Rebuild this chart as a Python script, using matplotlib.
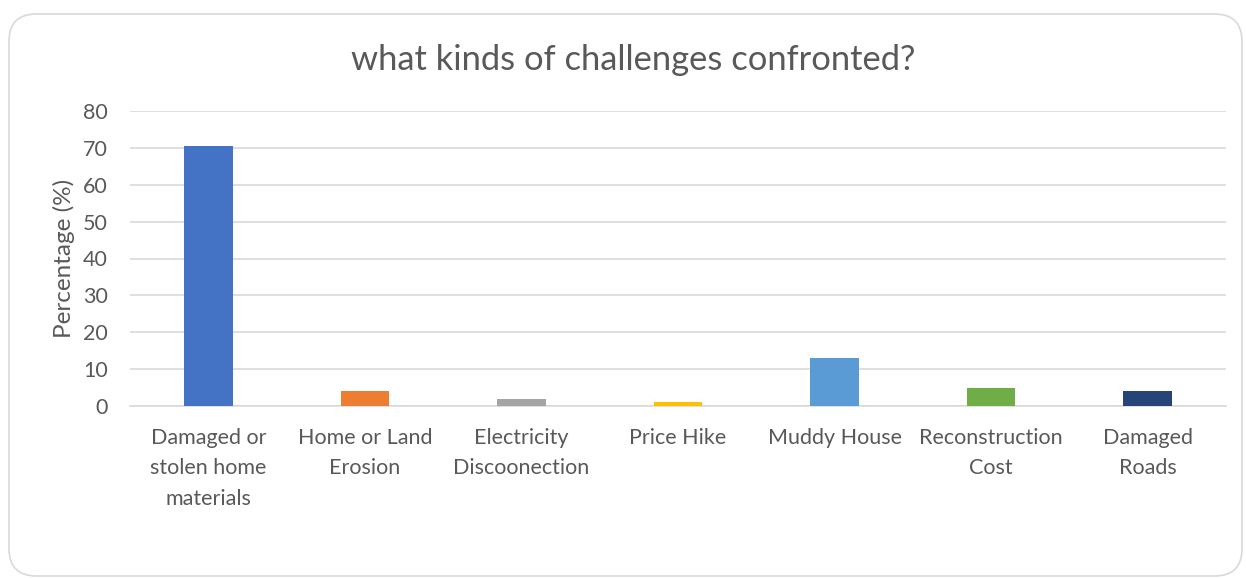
import matplotlib
matplotlib.use("Agg")
import matplotlib.pyplot as plt
from matplotlib.patches import FancyBboxPatch

categories = ["Damaged or\nstolen home\nmaterials", "Home or Land\nErosion", "Electricity\nDiscoonection",
              "Price Hike", "Muddy House", "Reconstruction\nCost", "Damaged\nRoads"]
values = [70.6, 4, 2, 1, 13, 5, 4]
colors = ["#4472C4", "#ED7D31", "#A5A5A5", "#FFC000", "#5B9BD5", "#70AD47", "#264478"]
yticks = [0, 10, 20, 30, 40, 50, 60, 70, 80]

plt.rcParams['font.family'] = ['Lato', 'DejaVu Sans']
W, H = 1246, 578
fig = plt.figure(figsize=(W/100, H/100), dpi=100)
fig.patch.set_facecolor("white")

# chart border
border = FancyBboxPatch((9/W, 2/H), (W-9-4)/W, (H-14-2)/H,
                        boxstyle="round,pad=0,rounding_size=0.022",
                        transform=fig.transFigure, facecolor="none",
                        edgecolor="#d9d9d9", linewidth=1.2, mutation_aspect=W/H, zorder=-1)
fig.patches.append(border)

ax = fig.add_axes([130/W, 1-406/H, (1226-130)/W, (406-111)/H])
ax.set_facecolor("none")
x = list(range(len(categories)))
ax.bar(x, values, width=0.31, color=colors, zorder=3)
ax.set_xlim(-0.5, len(categories)-0.5)
ax.set_ylim(0, 80)
ax.set_yticks(yticks)
ax.set_xticks(x)
ax.set_xticklabels(categories, linespacing=1.64)
ax.grid(axis='y', color="#d9d9d9", linewidth=1.2, zorder=0)
for s in ["top", "right", "left"]:
    ax.spines[s].set_visible(False)
ax.spines["bottom"].set_color("#d9d9d9")
ax.spines["bottom"].set_linewidth(1.2)
ax.tick_params(axis='both', length=0, labelsize=15.5, colors="#595959")
ax.tick_params(axis='x', pad=16)
ax.tick_params(axis='y', pad=16)
ax.set_ylabel("Percentage (%)", fontsize=17.5, color="#595959", labelpad=6)
fig.text(633/W, 1-60/H, "what kinds of challenges confronted?", ha='center', va='center',
         fontsize=24.8, color="#595959")

fig.savefig("out.png", dpi=100)
